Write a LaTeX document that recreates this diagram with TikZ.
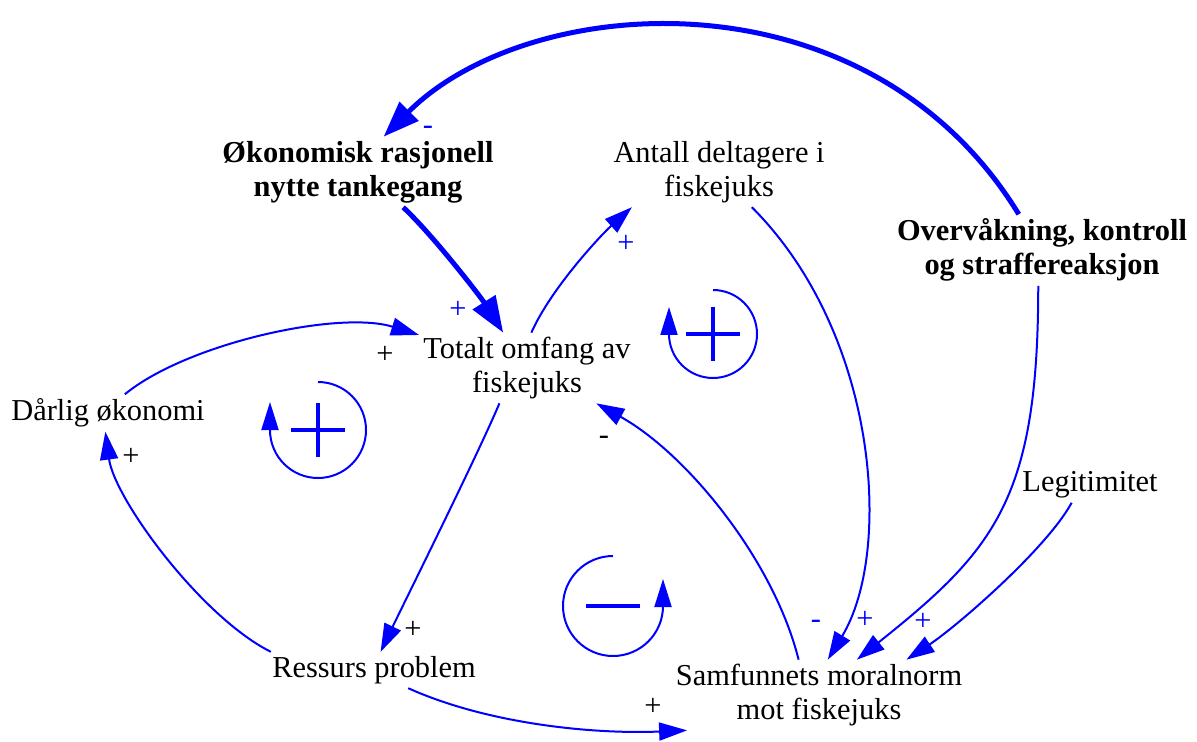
\documentclass[tikz,border=0pt]{standalone}
\usepackage{fontspec}
\setmainfont{Liberation Serif}
\usepackage{tikz}
\usetikzlibrary{arrows.meta, calc}

\definecolor{linkblue}{RGB}{0,0,255}

\begin{document}
\begin{tikzpicture}[x=0.5pt, y=-0.5pt,
    var/.style={align=center, inner sep=2pt, font=\fontsize{15.2}{17}\selectfont},
    keyvar/.style={var, font=\fontsize{15.2}{17}\selectfont\bfseries},
    link/.style={linkblue, line width=1pt, -{Triangle[length=14pt, width=9pt]}},
    strong/.style={linkblue, line width=2.5pt, -{Triangle[length=18pt, width=13pt]}},
    sign/.style={font=\fontsize{15.2}{17}\selectfont, inner sep=0pt},
    looparc/.style={linkblue, line width=1pt, -{Triangle[length=14pt, width=8.5pt]}},
    loopsign/.style={linkblue, line width=2pt}]

    \useasboundingbox (0,0) rectangle (1197,742);

    % Variables
    \node[keyvar] (okon) at (358,172) {Økonomisk rasjonell\\nytte tankegang};
    \node[var] (antall) at (719,172) {Antall deltagere i\\fiskejuks};
    \node[keyvar] (overv) at (1042,250) {Overvåkning, kontroll\\og straffereaksjon};
    \node[var] (totalt) at (527,368) {Totalt omfang av\\fiskejuks};
    \node[var] (darlig) at (108,413) {Dårlig økonomi};
    \node[var] (legit) at (1090,485) {Legitimitet};
    \node[var] (ressurs) at (374,670) {Ressurs problem};
    \node[var] (samf) at (819,695) {Samfunnets moralnorm\\mot fiskejuks};

    % Links
    \draw[strong] (overv.123) .. controls +(-152,-248) and +(145,-145) .. (okon.54);
    \draw[strong] (okon.-38) .. controls +(30,28) and +(-22,-35) .. (totalt.124);
    \draw[link] (darlig.48) .. controls +(62,-51) and +(-80,-25) .. (totalt.163);
    \draw[link] (totalt.83) .. controls +(20,-45) and +(-30,27) .. (antall.202);
    \draw[link] (antall.-47) .. controls +(127,127) and +(65,-107) .. (samf.76);
    \draw[link] (overv.-96) .. controls +(0,213) and +(138,-110) .. (samf.43);
    \draw[link] (legit.-136) .. controls +(-25,46) and +(50,-33) .. (samf.22);
    \draw[link] (samf.120) .. controls +(-25,-100) and +(90,50) .. (totalt.-27);
    \draw[link] (totalt.-128) .. controls +(-20,48) and +(23,-48) .. (ressurs.70);
    \draw[link] (ressurs.-28) .. controls +(80,36) and +(-93,4) .. (samf.195);
    \draw[link] (ressurs.170) .. controls +(-70,-35) and +(9,67) .. (darlig.-98);

    % Polarities
    \node[sign, linkblue] (s1) at (428,130) {-};
    \node[sign, linkblue] (s2) at (458,310) {+};
    \node[sign] (s3) at (385,355) {+};
    \node[sign, linkblue] (s4) at (626,244) {+};
    \node[sign, linkblue] (s5) at (816,624) {-};
    \node[sign, linkblue] (s6) at (865,620) {+};
    \node[sign, linkblue] (s7) at (923,622) {+};
    \node[sign] (s8) at (604,440) {-};
    \node[sign] (s9) at (413,630) {+};
    \node[sign] (s10) at (653,707) {+};
    \node[sign] (s11) at (131,457) {+};

    % Loops
    \coordinate (loopL) at (318,430);
    \draw[looparc] ($(loopL)+(0,-48)$) arc[start angle=90, end angle=-180, radius=24pt] -- ++(0,-28);
    \draw[loopsign] ($(loopL)+(-27,0)$) -- ++(54,0) ($(loopL)+(0,-27)$) -- ++(0,54);

    \coordinate (loopT) at (713,334);
    \draw[looparc] ($(loopT)+(0,-44)$) arc[start angle=90, end angle=-180, radius=22pt] -- ++(0,-27);
    \draw[loopsign] ($(loopT)+(-27,0)$) -- ++(54,0) ($(loopT)+(0,-27)$) -- ++(0,54);

    \coordinate (loopB) at (613,606);
    \draw[looparc] ($(loopB)+(0,-50)$) arc[start angle=90, end angle=360, radius=25pt] -- ++(0,-27);
    \draw[loopsign] ($(loopB)+(-27,0)$) -- ++(54,0);
\end{tikzpicture}
\end{document}
